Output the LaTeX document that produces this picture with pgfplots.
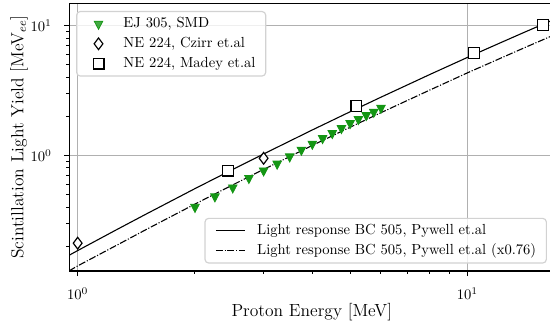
\documentclass[border=0pt]{standalone}
\usepackage{pgfplots}
\pgfplotsset{compat=1.18}
\definecolor{mgreen}{RGB}{20,150,20}
\definecolor{gridgray}{RGB}{176,176,176}
\definecolor{legedge}{RGB}{210,210,210}
\begin{document}
\begin{tikzpicture}
\begin{axis}[name=ax,
  width=332.2pt, height=183.2pt, scale only axis,
  xmode=log, ymode=log, xmin=0.952, xmax=16.7, ymin=0.129, ymax=14.77,
  axis line style={line width=0.8pt},
  grid=major, major grid style={gridgray, line width=0.8pt},
  tick align=outside, tick pos=left,
  xtick={1,10}, ytick={1,10},
  minor xtick={2,3,4,5,6,7,8,9,20},
  minor ytick={0.2,0.3,0.4,0.5,0.6,0.7,0.8,0.9,2,3,4,5,6,7,8,9},
  major tick length=3.5pt, minor tick length=2pt,
  major tick style={black, line width=0.8pt},
  minor tick style={black, line width=0.7pt},
  xticklabel style={anchor=north, inner sep=0pt, yshift=-7.9pt, font=\fontsize{10}{12}\selectfont},
  yticklabel style={anchor=east, inner sep=0pt, xshift=-8.4pt, font=\fontsize{10}{12}\selectfont},
  xlabel={Proton Energy [MeV]},
  ylabel={Scintillation Light Yield [MeV$_{ee}$]},
  xlabel style={at={(axis description cs:0.5,-0.1195)}, anchor=north, inner sep=0pt, font=\fontsize{12}{14}\selectfont},
  ylabel style={at={(axis description cs:-0.1039,0.5)}, anchor=center, inner sep=0pt, font=\fontsize{12}{14}\selectfont},
  legend cell align=left,
  legend image code/.code={\draw[#1] (0pt,0pt) -- (20pt,0pt);},
  legend style={at={(1,0)}, anchor=south east, xshift=-5pt, yshift=5pt,
     font=\fontsize{10}{12}\selectfont,
     draw=legedge, line width=0.8pt, rounded corners=2.5pt, fill=white, fill opacity=0.8, text opacity=1,
     inner xsep=7pt, inner ysep=4pt, row sep=4.6pt, column sep=8pt,
     nodes={inner sep=0pt, text height=7pt, text depth=2pt, anchor=west}},
]
\addplot[black, line width=0.75pt, sharp plot] coordinates {
(0.95,0.170) (1,0.185) (1.25,0.265) (1.5,0.354) (2,0.555) (2.5,0.780) (3,1.026)
(4,1.570) (5,2.167) (6,2.806) (8,4.19) (10,5.68) (12,7.24) (14,8.87) (16.7,11.14)};
\addlegendentry{Light response BC 505, Pywell et.al}
\addplot[black, line width=0.75pt, dash pattern=on 4.8pt off 1.2pt on 0.75pt off 1.2pt] coordinates {
(0.95,0.129) (1,0.141) (1.25,0.201) (1.5,0.269) (2,0.422) (2.5,0.593) (3,0.780)
(4,1.193) (5,1.647) (6,2.133) (8,3.18) (10,4.32) (12,5.50) (14,6.74) (16.7,8.47)};
\addlegendentry{Light response BC 505, Pywell et.al (x0.76)}
\end{axis}
\begin{axis}[hide axis,
  width=332.2pt, height=183.2pt, scale only axis,
  xmode=log, ymode=log, xmin=0.952, xmax=16.7, ymin=0.129, ymax=14.77,
  legend cell align=left,
  legend image code/.code={\path (0pt,-3pt) (20pt,3pt); \draw[mark repeat=2,mark phase=2,#1] plot coordinates {(0pt,0pt) (10pt,0pt) (20pt,0pt)};},
  legend style={at={(0,1)}, anchor=north west, xshift=4.6pt, yshift=-5.1pt,
     font=\fontsize{10}{12}\selectfont,
     draw=legedge, line width=0.8pt, rounded corners=2.5pt, fill=white, fill opacity=0.8, text opacity=1,
     inner xsep=4.6pt, inner ysep=4pt, row sep=4.6pt, column sep=4.3pt,
     nodes={inner xsep=2.4pt, inner ysep=0pt, text height=7pt, text depth=2pt, anchor=west}},
]
\addplot[only marks, mark=triangle*, mark size=3.4pt, mgreen,
  mark options={rotate=180, yscale=1.1, fill=mgreen, draw=mgreen, sharp corners, line width=0.5pt}] coordinates {
(2.0,0.400) (2.25,0.482) (2.5,0.565) (2.75,0.668) (3.0,0.763) (3.25,0.861) (3.5,0.979)
(3.75,1.102) (4.0,1.226) (4.25,1.356) (4.5,1.482) (4.75,1.618) (5.0,1.768) (5.25,1.899)
(5.5,2.039) (5.75,2.161) (6.0,2.319)};
\addlegendentry{EJ 305, SMD}
\addplot[only marks, mark=diamond*, mark size=4.0pt,
  mark options={fill=white, draw=black, sharp corners, line width=0.8pt}] coordinates {
(1.0,0.211) (3.0,0.95)};
\addlegendentry{NE 224, Czirr et.al}
\addplot[only marks, mark=square*, mark size=3.7pt,
  mark options={fill=white, draw=black, sharp corners, line width=0.8pt}] coordinates {
(2.43,0.763) (5.19,2.40) (10.4,6.11) (15.6,10.1)};
\addlegendentry{NE 224, Madey et.al}
\end{axis}
\pgfresetboundingbox
\path[use as bounding box] ([xshift=-47.5pt,yshift=-37pt]ax.south west) rectangle ([xshift=-2.9pt,yshift=2.4pt]ax.north east);
\end{tikzpicture}
\end{document}
